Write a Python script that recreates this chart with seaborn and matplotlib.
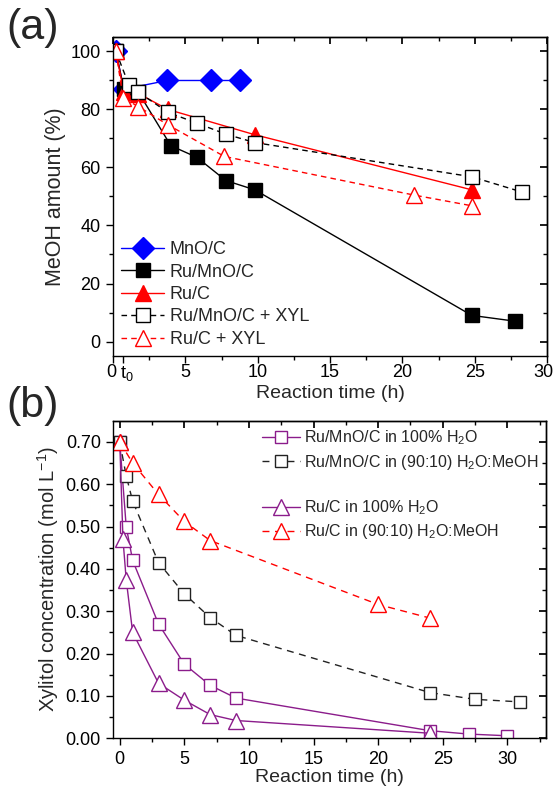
"""
Two-panel figure: MeOH consumption (a) and xylitol conversion (b) vs reaction time.
"""
import matplotlib
matplotlib.use("Agg")
import matplotlib.pyplot as plt
import matplotlib.transforms as mtransforms
import seaborn as sns

# -------------------------------------------------------------------
# Data: panel (a) MeOH amount (%)
# -------------------------------------------------------------------
mno_x = [0.2, 0.75, 3.75, 6.75, 8.75]
mno_y = [100, 87, 90, 90, 90]

ru_mno_x = [0.2, 0.75, 1.75, 4.0, 5.8, 7.8, 9.8, 24.8, 27.8]
ru_mno_y = [100, 87, 86, 67.5, 63.5, 55.5, 52.3, 9.0, 7.0]

ru_c_x = [0.2, 0.75, 1.75, 3.8, 9.8, 24.8]
ru_c_y = [100, 86, 85.5, 80, 71.3, 52.3]

ru_mno_xyl_x = [0.2, 1.1, 1.75, 3.8, 5.8, 7.8, 9.8, 24.8, 28.3]
ru_mno_xyl_y = [100, 88.5, 86, 79, 75.3, 71.5, 68.6, 56.8, 51.5]

ru_c_xyl_x = [0.2, 0.7, 1.75, 3.8, 7.7, 20.8, 24.8]
ru_c_xyl_y = [100, 84, 81, 74.7, 63.8, 50.5, 46.8]

a_xticks = [0, 0.7, 5, 10, 15, 20, 25, 30]
a_xticklabels = ["0", "t$_0$", "5", "10", "15", "20", "25", "30"]

# -------------------------------------------------------------------
# Data: panel (b) xylitol concentration (mol/L)
# -------------------------------------------------------------------
b1_x = [0, 0.5, 1, 3, 5, 7, 9, 24, 27, 30]
b1_y = [0.70, 0.50, 0.42, 0.27, 0.175, 0.125, 0.095, 0.018, 0.010, 0.006]

b2_x = [0, 0.5, 1, 3, 5, 7, 9, 24, 27.5, 31]
b2_y = [0.70, 0.62, 0.56, 0.415, 0.341, 0.285, 0.243, 0.108, 0.092, 0.086]

b3_x = [0, 0.25, 0.5, 1, 3, 5, 7, 9, 24]
b3_y = [0.70, 0.47, 0.375, 0.25, 0.13, 0.09, 0.056, 0.042, 0.012]

b4_x = [0, 1, 3, 5, 7, 20, 24]
b4_y = [0.70, 0.65, 0.576, 0.512, 0.467, 0.316, 0.284]

purple = "#8B1C8B"

sns.set_theme(style="ticks")
plt.rcParams.update({
    "font.family": ["Liberation Sans", "DejaVu Sans"],
    "mathtext.fontset": "custom",
    "mathtext.rm": "Liberation Sans",
    "mathtext.it": "Liberation Sans:italic",
    "axes.linewidth": 1.0,
    "axes.edgecolor": "black",
    "xtick.color": "black",
    "ytick.color": "black",
    "xtick.labelsize": 13,
    "ytick.labelsize": 13,
})

fig = plt.figure(figsize=(5.55, 7.92), dpi=100)
ax_a = fig.add_axes([0.2036, 0.5505, 0.782, 0.4028])
ax_b = fig.add_axes([0.2041, 0.0678, 0.780, 0.401])


def draw(ax, x, y, label, color, marker, ms, filled, ls="-", dashes=None):
    kw = dict(color=color, marker=marker, markersize=ms, linewidth=1.0,
              markeredgecolor=color, markeredgewidth=1.0,
              markerfacecolor=color if filled else "white")
    line = sns.lineplot(x=x, y=y, ax=ax, label=label, sort=False,
                        estimator=None, linestyle=ls, **kw)
    if dashes is not None:
        ax.get_lines()[-1].set_dashes(dashes)
    return line


def mirror_ticks(ax, xmajor, xminor, ymajor, yminor, xpad):
    for side in ("top", "right"):
        ax.spines[side].set_visible(True)
    ax.set_xticks(xminor, minor=True)
    ax.set_yticks(yminor, minor=True)
    ax.tick_params(which="major", direction="out", length=5, width=1)
    ax.tick_params(which="minor", direction="out", length=3, width=1)
    ax.tick_params(axis="x", which="major", pad=xpad)
    ax.tick_params(axis="y", which="major", pad=4)
    sx = ax.secondary_xaxis("top")
    sx.set_xticks(xmajor)
    sx.set_xticks(xminor, minor=True)
    sx.tick_params(which="major", direction="in", length=5, labeltop=False)
    sx.tick_params(which="minor", direction="in", length=3)
    sy = ax.secondary_yaxis("right")
    sy.set_yticks(ymajor)
    sy.set_yticks(yminor, minor=True)
    sy.tick_params(which="major", direction="in", length=5, labelright=False)
    sy.tick_params(which="minor", direction="in", length=3)


def nudge(label, dx_px):
    label.set_transform(label.get_transform()
                        + mtransforms.ScaledTranslation(dx_px / 100, 0, fig.dpi_scale_trans))


# -------------------------------------------------------------------
# Panel (a)
# -------------------------------------------------------------------
draw(ax_a, mno_x, mno_y, "MnO/C", "blue", "D", 11, True)
draw(ax_a, ru_mno_x, ru_mno_y, "Ru/MnO/C", "black", "s", 9.5, True)
draw(ax_a, ru_c_x, ru_c_y, "Ru/C", "red", "^", 11, True)
draw(ax_a, ru_mno_xyl_x, ru_mno_xyl_y, "Ru/MnO/C + XYL", "black", "s", 9.5, False,
     ls="--", dashes=(4, 3))
draw(ax_a, ru_c_xyl_x, ru_c_xyl_y, "Ru/C + XYL", "red", "^", 11, False,
     ls="--", dashes=(4, 3))

ax_a.set_xlim(0, 30)
ax_a.set_ylim(-5, 105)
ax_a.set_xticks(a_xticks)
ax_a.set_xticklabels(a_xticklabels)
ax_a.set_yticks([0, 20, 40, 60, 80, 100])
mirror_ticks(ax_a, [0, 5, 10, 15, 20, 25, 30],
             [2.5, 7.5, 12.5, 17.5, 22.5, 27.5],
             [0, 20, 40, 60, 80, 100], [10, 30, 50, 70, 90], xpad=1)
# nudge "0" and "t0" apart like the original, keep "30" inside the canvas
lbls = ax_a.get_xticklabels()
nudge(lbls[0], -2)
nudge(lbls[1], 4)
nudge(lbls[-1], -4)
ax_a.set_xlabel("Reaction time (h)", fontsize=14, labelpad=1)
ax_a.set_ylabel("MeOH amount (%)", fontsize=15.5, labelpad=3)
ax_a.legend(loc="lower left", frameon=False, fontsize=13, handlelength=2.4,
            labelspacing=0.3, handletextpad=0.3, borderaxespad=0.05)

# -------------------------------------------------------------------
# Panel (b)
# -------------------------------------------------------------------
draw(ax_b, b1_x, b1_y, "Ru/MnO/C in 100% H$_2$O", purple, "s", 9, False)
draw(ax_b, b2_x, b2_y, "Ru/MnO/C in (90:10) H$_2$O:MeOH", "#222222", "s", 9, False,
     ls="--", dashes=(5, 4))
draw(ax_b, b3_x, b3_y, "Ru/C in 100% H$_2$O", purple, "^", 11, False)
draw(ax_b, b4_x, b4_y, "Ru/C in (90:10) H$_2$O:MeOH", "red", "^", 11, False,
     ls="--", dashes=(5, 4))

ax_b.set_xlim(-0.5, 33)
ax_b.set_ylim(0, 0.75)
ax_b.set_xticks([0, 5, 10, 15, 20, 25, 30])
ax_b.set_yticks([0, 0.1, 0.2, 0.3, 0.4, 0.5, 0.6, 0.7])
ax_b.set_yticklabels([f"{v:.2f}" for v in [0, 0.1, 0.2, 0.3, 0.4, 0.5, 0.6, 0.7]])
mirror_ticks(ax_b, [0, 5, 10, 15, 20, 25, 30],
             [2.5, 7.5, 12.5, 17.5, 22.5, 27.5, 32.5],
             [0, 0.1, 0.2, 0.3, 0.4, 0.5, 0.6, 0.7],
             [0.05, 0.15, 0.25, 0.35, 0.45, 0.55, 0.65], xpad=4)
ax_b.set_xlabel("Reaction time (h)", fontsize=14, labelpad=1)
ax_b.set_ylabel("Xylitol concentration (mol L$^{-1}$)", fontsize=14.5, labelpad=3)

handles, labels = ax_b.get_legend_handles_labels()
blank = plt.Line2D([], [], linestyle="none")
handles = handles[:2] + [blank] + handles[2:]
labels = labels[:2] + [""] + labels[2:]
ax_b.legend(handles, labels, loc="upper right", frameon=False, fontsize=11.5,
            handlelength=2.4, labelspacing=0.35, handletextpad=0.25,
            borderaxespad=0.1)

fig.text(0.012, 0.99, "(a)", fontsize=31, va="top", ha="left")
fig.text(0.012, 0.512, "(b)", fontsize=31, va="top", ha="left")

fig.savefig("out.png", dpi=100)
plt.close(fig)
